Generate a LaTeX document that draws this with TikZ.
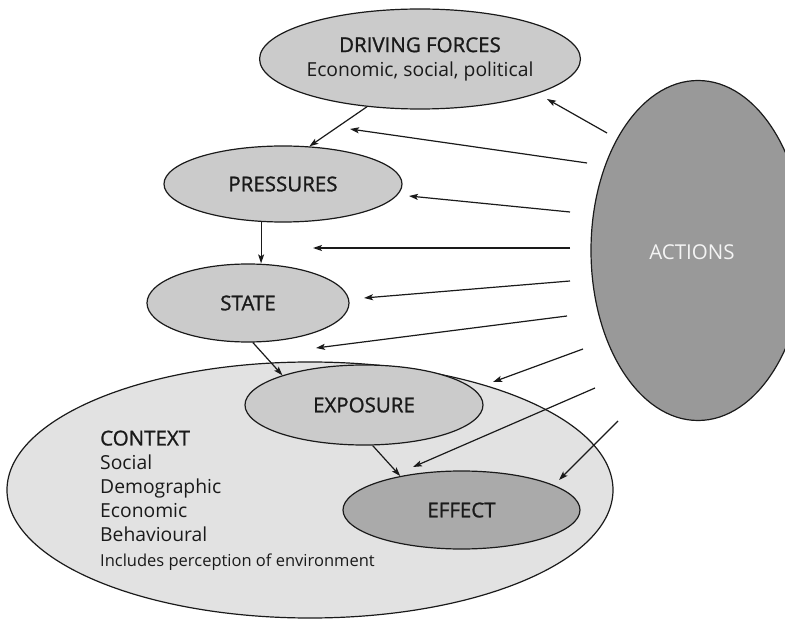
\documentclass[tikz,border=0pt]{standalone}
\usepackage{fontspec}
\setmainfont{Open Sans}
\newfontfamily\medfont{Open Sans}[FakeBold=1.1]
\usetikzlibrary{arrows.meta,shapes.geometric}
\definecolor{ctxgray}{HTML}{E2E2E2}
\definecolor{boxgray}{HTML}{CBCBCB}
\definecolor{effgray}{HTML}{AAAAAA}
\definecolor{actgray}{HTML}{999999}
\definecolor{ink}{HTML}{1A1A1A}
\definecolor{acttext}{HTML}{F4F4F4}
\newcommand{\capsfont}{\fontsize{20.5}{24}\selectfont\medfont}
\newcommand{\plainfont}{\fontsize{19.3}{24}\selectfont}
\begin{document}
\begin{tikzpicture}[x=1pt,y=-1pt,
  oval/.style={ellipse, draw=ink, line width=1.2pt, inner sep=0pt, text=ink,
    font=\plainfont},
  arr/.style={draw=ink, line width=1.2pt, -{Stealth[length=9pt,width=6pt,inset=2pt]}},
  ctxtext/.style={text=ink, inner sep=0pt, align=left}]
\useasboundingbox (0,0) rectangle (785,620);
\fill[white] (0,0) rectangle (785,620);

% context
\node[oval, fill=ctxgray, minimum width=606pt, minimum height=256pt] (ctx) at (310,490) {};
\node[ctxtext, anchor=north west, font=\plainfont] (ctxlist) at (100,430.4)
  {{\capsfont CONTEXT}\\Social\\Demographic\\Economic\\Behavioural};
\node[ctxtext, anchor=base west, font=\fontsize{16.5}{20}\selectfont] (ctxnote) at (100,566)
  {Includes perception of environment};

% chain
\node[oval, fill=boxgray, minimum width=316pt, minimum height=100pt, align=center] (drv) at (420,59)
  {{\capsfont DRIVING FORCES}\\Economic, social, political};
\node[oval, fill=boxgray, minimum width=238pt, minimum height=76pt] (prs) at (283,184) {\capsfont PRESSURES};
\node[oval, fill=boxgray, minimum width=202pt, minimum height=78pt] (sta) at (248,303) {\capsfont STATE};
\node[oval, fill=boxgray, minimum width=238pt, minimum height=80pt] (exp) at (364,405) {\capsfont EXPOSURE};
\node[oval, fill=effgray, minimum width=237pt, minimum height=78pt] (eff) at (461.5,510) {\capsfont EFFECT};

% actions
\begin{scope}
  \clip (0,0) rectangle (785,620);
  \node[oval, fill=actgray, minimum width=214pt, minimum height=340pt] (act) at (698,250.5) {};
\end{scope}
\node[text=acttext, font=\fontsize{20.5}{24}\selectfont, inner sep=0pt] (acttxt) at (692,252) {ACTIONS};

% chain arrows
\draw[arr] (drv.222) -- (prs.55);
\draw[arr] (prs.240) -- (prs.240 |- sta.north);
\draw[arr] (sta.277) -- (exp.160);
\draw[arr] (exp.282) -- (eff.151);

% action arrows
\coordinate (a1s) at (607,133); \coordinate (a1e) at (547,99);
\coordinate (a2s) at (587,163); \coordinate (a2e) at (350,129);
\coordinate (a3s) at (570,212); \coordinate (a3e) at (409,196);
\coordinate (a4s) at (570,248); \coordinate (a4e) at (313,248);
\coordinate (a5s) at (570,281); \coordinate (a5e) at (364,298);
\coordinate (a6s) at (567,316); \coordinate (a6e) at (316,348);
\coordinate (a7s) at (583,349); \coordinate (a7e) at (493,382);
\coordinate (a8s) at (595,388); \coordinate (a8e) at (413,467);
\coordinate (a9s) at (618,421); \coordinate (a9e) at (559,480);
\foreach \i in {1,...,9} { \draw[arr] (a\i s) -- (a\i e); }
\end{tikzpicture}
\end{document}
